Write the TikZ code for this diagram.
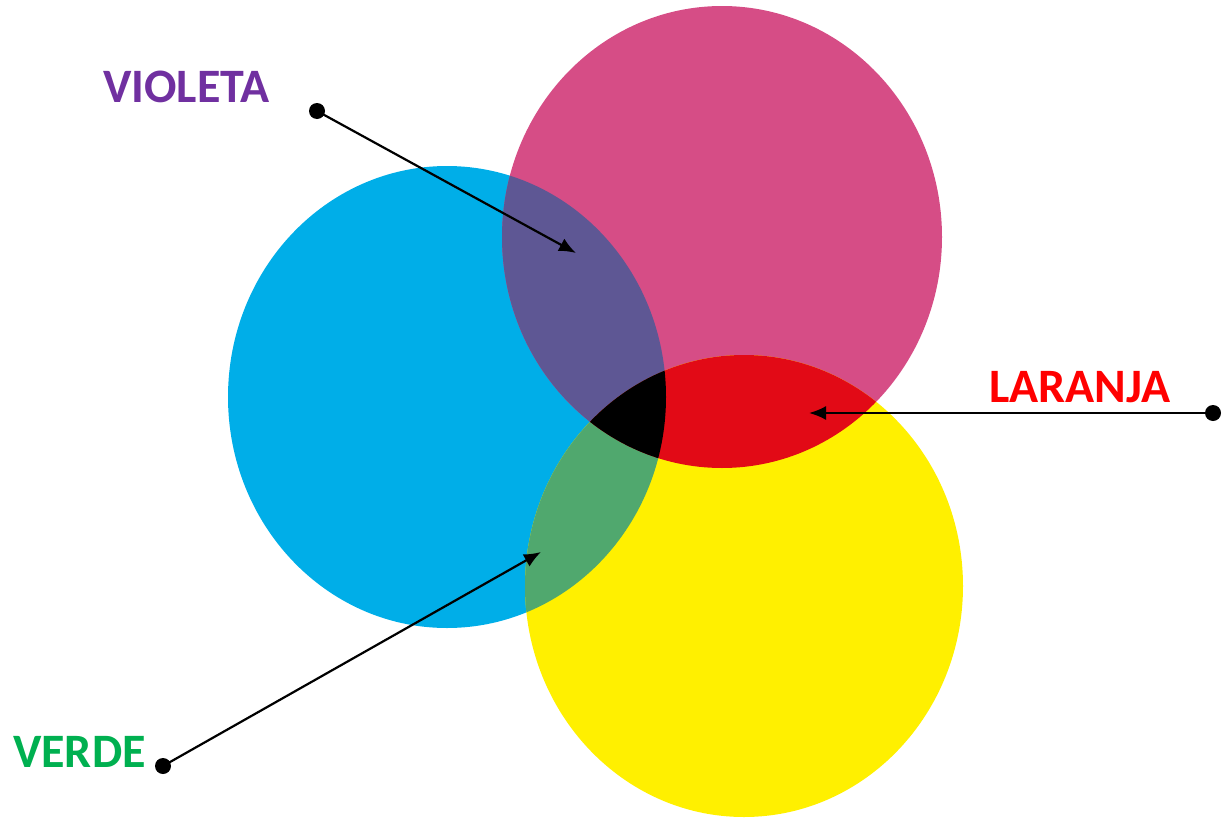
\documentclass[tikz,border=0pt]{standalone}
\usepackage{fontspec}
\setmainfont{Carlito}
\usetikzlibrary{arrows.meta}
\definecolor{cCyan}{RGB}{0,174,232}
\definecolor{cMag}{RGB}{214,77,134}
\definecolor{cYel}{RGB}{255,240,0}
\definecolor{cVio}{RGB}{94,87,148}
\definecolor{cRed}{RGB}{226,10,22}
\definecolor{cGrn}{RGB}{80,168,110}
\definecolor{tVio}{RGB}{112,48,160}
\definecolor{tRed}{RGB}{255,0,0}
\definecolor{tGrn}{RGB}{0,176,80}
\tikzset{
  lbl/.style={font=\fontsize{48}{48}\selectfont\bfseries, inner sep=0pt, anchor=base west},
  pin/.style={circle, fill=black, inner sep=0pt, minimum size=16pt},
  arr/.style={line width=2.2pt, -{Latex[length=17pt,width=14pt]}, shorten <=-2pt},
}
\begin{document}
\begin{tikzpicture}[x=1pt,y=-1pt]
\useasboundingbox (0,0) rectangle (1229,822);
\def\Cy{(447,397) ellipse [x radius=219, y radius=231]}
\def\Ma{(722,237) ellipse [x radius=220, y radius=231]}
\def\Ye{(744,586) ellipse [x radius=219, y radius=231]}
\fill[cCyan] \Cy;
\fill[cMag] \Ma;
\fill[cYel] \Ye;
\begin{scope}
  \clip \Cy;
  \fill[cVio] \Ma;
  \fill[cGrn] \Ye;
\end{scope}
\begin{scope}
  \clip \Ma;
  \fill[cRed] \Ye;
  \clip \Cy;
  \fill[black] \Ye;
\end{scope}
\node[lbl, text=tVio] (violeta) at (103,102) {VIOLETA};
\node[lbl, text=tRed] (laranja) at (989,402) {LARANJA};
\node[lbl, text=tGrn] (verde) at (13,767) {VERDE};
\node[pin] (pv) at (317,111) {};
\node[pin] (pl) at (1213,413) {};
\node[pin] (pg) at (163,766) {};
\coordinate (tv) at (576,253);
\coordinate (tl) at (809,413);
\coordinate (tg) at (541,552);
\draw[arr] (pv.center) -- (tv);
\draw[arr] (pl.center) -- (tl);
\draw[arr] (pg.center) -- (tg);
\end{tikzpicture}
\end{document}
